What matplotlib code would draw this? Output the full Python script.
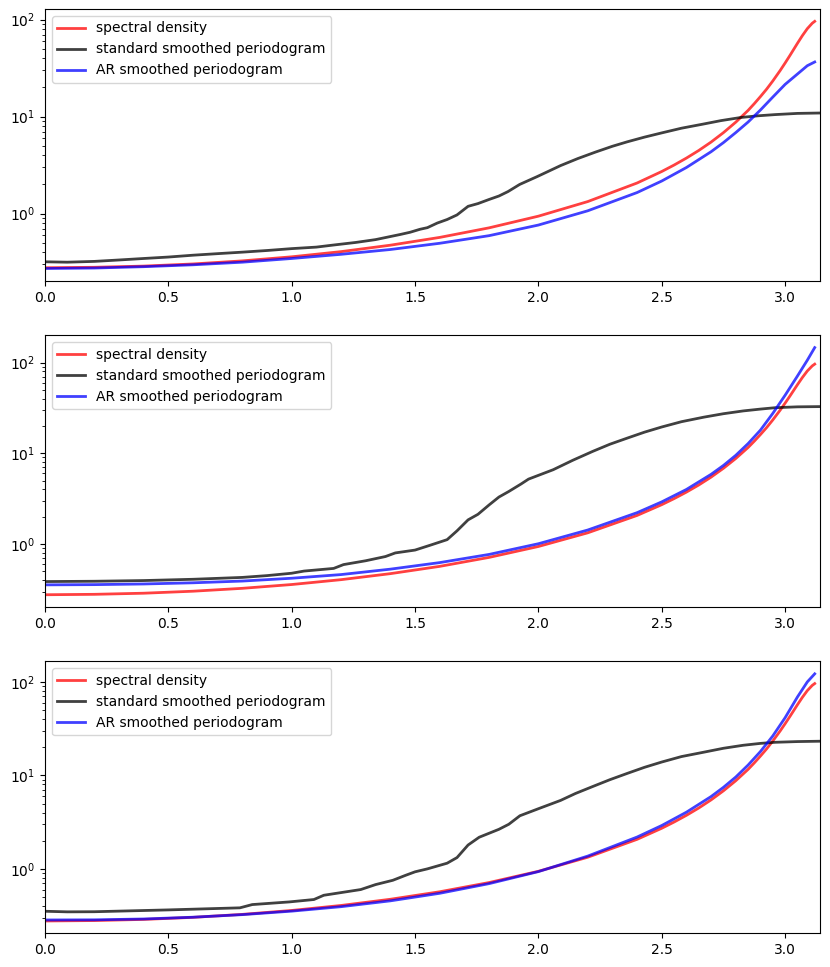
import matplotlib
matplotlib.use("Agg")
import matplotlib.pyplot as plt
import numpy as np

# true spectral density
sd_freq = [0.0, 0.2, 0.4, 0.6, 0.8, 1.0, 1.2, 1.4, 1.6, 1.8, 2.0, 2.2, 2.4, 2.5,
           2.55, 2.6, 2.65, 2.7, 2.75, 2.8, 2.85, 2.875, 2.9, 2.925, 2.95, 2.98,
           3.0, 3.02, 3.05, 3.07, 3.09, 3.11, 3.12]
spectral_density = [0.277, 0.280, 0.288, 0.303, 0.326, 0.359, 0.406, 0.473, 0.569,
                    0.714, 0.942, 1.332, 2.07, 2.72, 3.17, 3.74, 4.48, 5.47, 6.84,
                    8.77, 11.6, 13.6, 16.1, 19.2, 23.3, 29.9, 35.7, 42.9, 57.0,
                    68.4, 80.7, 91.8, 96.0]

# AR smoothed periodogram, one series per panel
ar_freq = [0.0, 0.2, 0.4, 0.6, 0.8, 1.0, 1.2, 1.4, 1.6, 1.8, 2.0, 2.2, 2.4, 2.5,
           2.6, 2.7, 2.75, 2.8, 2.85, 2.9, 2.95, 3.0, 3.05, 3.09, 3.12]
ar_smoothed_1 = [0.272, 0.275, 0.284, 0.297, 0.316, 0.345, 0.381, 0.427, 0.495,
                 0.593, 0.763, 1.07, 1.65, 2.17, 2.99, 4.35, 5.4, 6.85, 8.8,
                 11.7, 15.9, 21.5, 27.5, 33.5, 36.6]
ar_smoothed_2 = [0.356, 0.358, 0.364, 0.375, 0.392, 0.421, 0.462, 0.53, 0.626,
                 0.77, 1.01, 1.43, 2.22, 2.92, 4.0, 5.87, 7.35, 9.5, 12.8,
                 18.0, 27.5, 43.6, 71.0, 106.0, 146.0]
ar_smoothed_3 = [0.284, 0.285, 0.291, 0.304, 0.324, 0.353, 0.394, 0.455, 0.548,
                 0.695, 0.935, 1.37, 2.19, 2.91, 4.04, 5.94, 7.45, 9.6, 12.9,
                 18.0, 26.4, 41.4, 69.0, 100.0, 122.0]

# standard smoothed periodogram, one set of frequencies per panel
std_freq_1 = [0.0, 0.09, 0.2, 0.3, 0.4, 0.5, 0.6, 0.7, 0.8, 0.9, 1.0, 1.1, 1.17,
              1.26, 1.34, 1.44, 1.48, 1.52, 1.55, 1.59, 1.63, 1.67, 1.715, 1.755,
              1.80, 1.84, 1.877, 1.924, 1.995, 2.09, 2.16, 2.23, 2.30, 2.36, 2.43,
              2.5, 2.58, 2.67, 2.74, 2.82, 2.89, 2.96, 3.05, 3.1416]
std_smoothed_1 = [0.319, 0.316, 0.322, 0.333, 0.345, 0.357, 0.373, 0.387, 0.401,
                  0.417, 0.436, 0.452, 0.475, 0.505, 0.54, 0.61, 0.643, 0.69,
                  0.717, 0.80, 0.87, 0.97, 1.19, 1.27, 1.40, 1.52, 1.69, 2.0,
                  2.41, 3.13, 3.7, 4.3, 4.95, 5.5, 6.15, 6.8, 7.6, 8.4, 9.1, 9.8,
                  10.2, 10.5, 10.8, 10.9]

std_freq_2 = [0.0, 0.2, 0.4, 0.6, 0.8, 0.9, 1.0, 1.05, 1.17, 1.21, 1.30, 1.38, 1.42,
              1.50, 1.56, 1.63, 1.67, 1.715, 1.755, 1.80, 1.84, 1.88, 1.93, 1.96,
              2.06, 2.14, 2.22, 2.29, 2.36, 2.43, 2.50, 2.58, 2.67, 2.75, 2.83,
              2.90, 2.96, 3.05, 3.1416]
std_smoothed_2 = [0.387, 0.39, 0.397, 0.41, 0.43, 0.45, 0.478, 0.505, 0.54, 0.595,
                  0.656, 0.73, 0.80, 0.86, 0.97, 1.12, 1.40, 1.85, 2.13, 2.70,
                  3.30, 3.80, 4.6, 5.2, 6.6, 8.4, 10.5, 12.6, 14.7, 17.1, 19.5,
                  22.3, 25.0, 27.3, 29.3, 30.7, 31.8, 32.5, 32.7]

std_freq_3 = [0.0, 0.09, 0.2, 0.5, 0.79, 0.84, 0.99, 1.09, 1.13, 1.28, 1.34, 1.41,
              1.46, 1.50, 1.55, 1.63, 1.67, 1.715, 1.76, 1.84, 1.88, 1.925, 2.0,
              2.09, 2.15, 2.22, 2.29, 2.36, 2.43, 2.5, 2.58, 2.67, 2.75, 2.83,
              2.90, 2.96, 3.05, 3.1416]
std_smoothed_3 = [0.352, 0.347, 0.348, 0.364, 0.383, 0.415, 0.443, 0.47, 0.522,
                  0.601, 0.679, 0.755, 0.85, 0.93, 1.0, 1.15, 1.32, 1.8, 2.18,
                  2.65, 3.0, 3.7, 4.4, 5.4, 6.4, 7.6, 9.0, 10.5, 12.2, 13.9, 15.9,
                  17.7, 19.5, 21.0, 22.0, 22.6, 23.0, 23.2]

panels = [
    (std_freq_1, std_smoothed_1, ar_smoothed_1),
    (std_freq_2, std_smoothed_2, ar_smoothed_2),
    (std_freq_3, std_smoothed_3, ar_smoothed_3),
]

fig, axes = plt.subplots(3, 1, figsize=(8.3, 9.67), dpi=100)
fig.subplots_adjust(left=0.0542, right=0.988, top=0.9907, bottom=0.0348, hspace=0.2)

for ax, (sf, ss, ar) in zip(axes, panels):
    ax.semilogy(sd_freq, spectral_density, "r-", lw=2, alpha=0.75, label="spectral density")
    ax.semilogy(sf, ss, "k-", lw=2, alpha=0.75, label="standard smoothed periodogram")
    ax.semilogy(ar_freq, ar, "b-", lw=2, alpha=0.75, label="AR smoothed periodogram")
    ax.set_xlim(0, np.pi)
    ax.legend(loc="upper left")

fig.savefig("out.png", dpi=100)
